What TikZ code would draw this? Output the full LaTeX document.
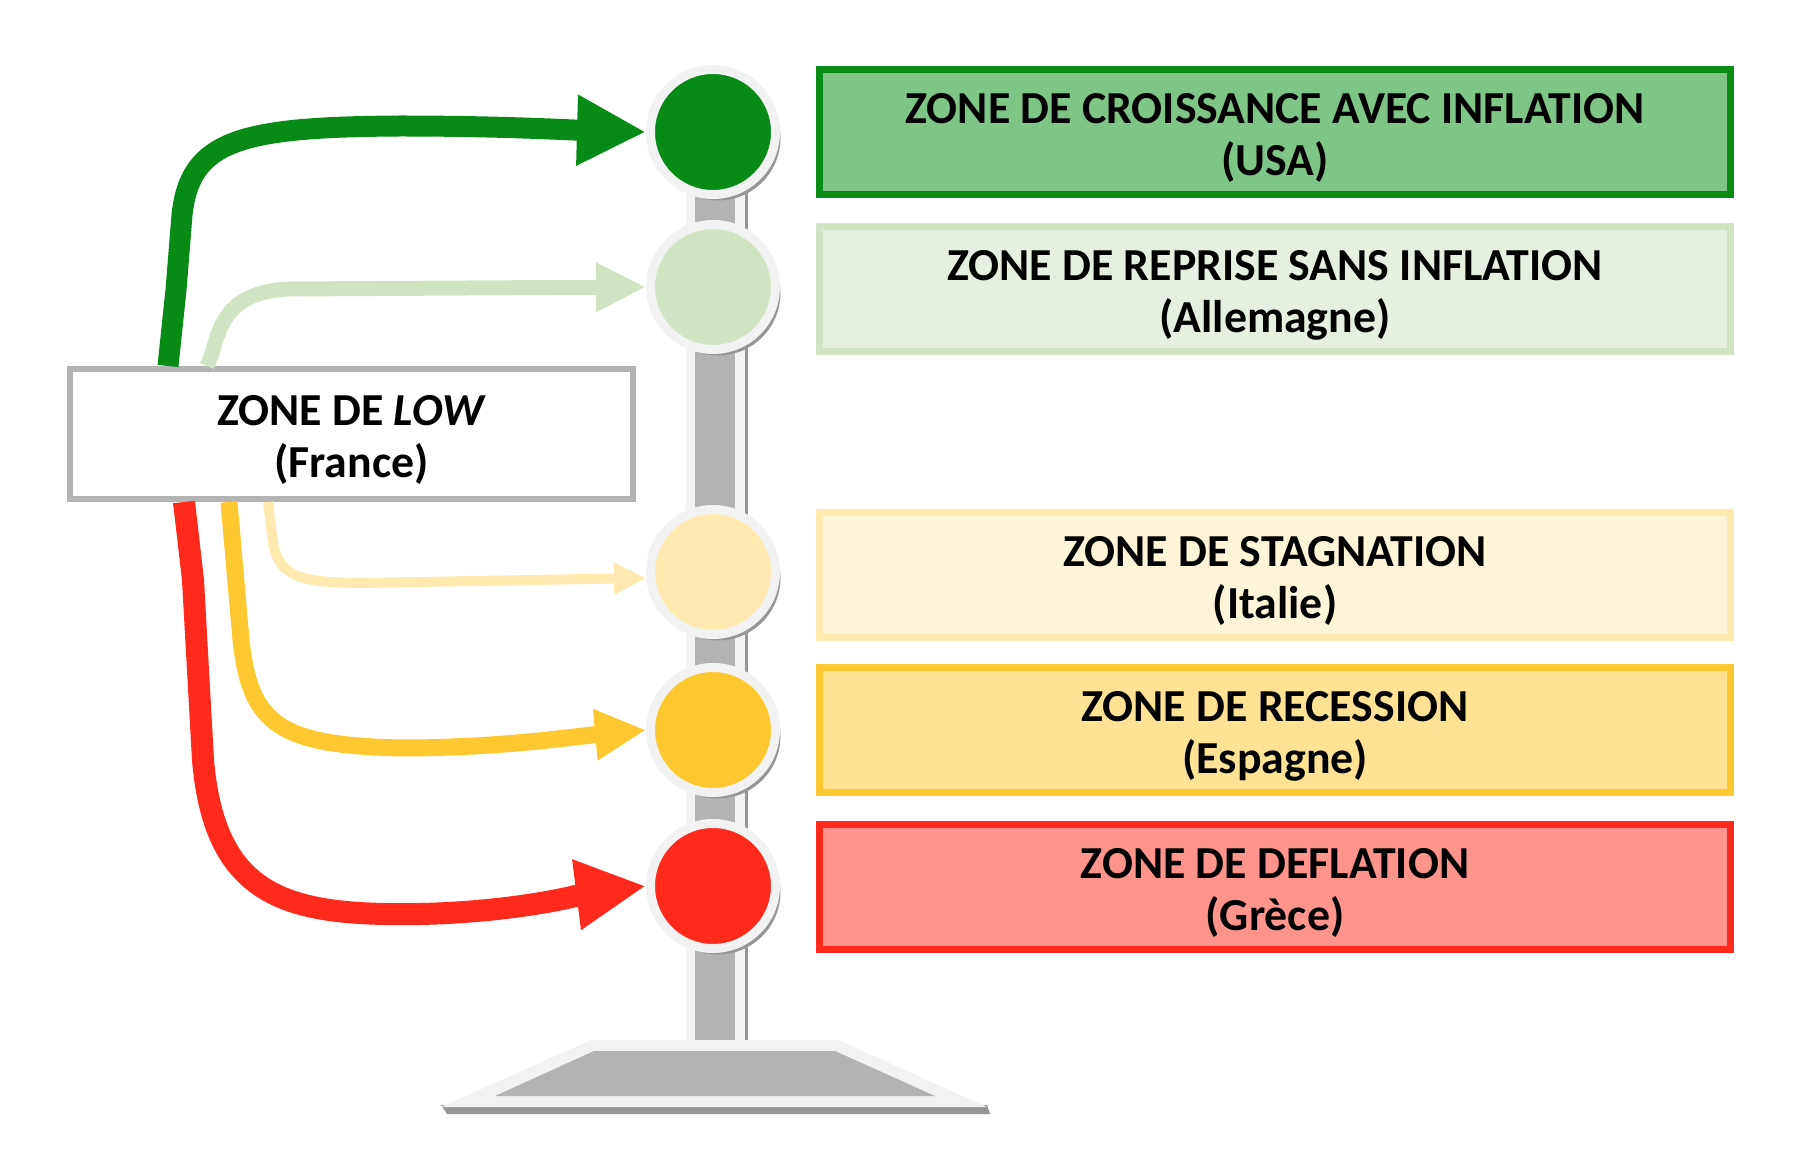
\documentclass[tikz,border=0pt]{standalone}
\usepackage{fontspec}
\setmainfont{Carlito}
\usetikzlibrary{arrows.meta,shadows}

\definecolor{dkgreen}{RGB}{8,138,22}
\definecolor{greenbox}{RGB}{127,198,134}
\definecolor{ltgreen}{RGB}{208,228,196}
\definecolor{ltgreenbox}{RGB}{230,240,224}
\definecolor{ltyellow}{RGB}{255,233,176}
\definecolor{ltyellowbox}{RGB}{255,243,216}
\definecolor{amber}{RGB}{255,200,48}
\definecolor{amberbox}{RGB}{255,226,148}
\definecolor{alarm}{RGB}{255,42,28}
\definecolor{alarmbox}{RGB}{255,148,140}
\definecolor{polegray}{RGB}{179,179,179}
\definecolor{ringwhite}{RGB}{242,242,242}
\definecolor{poleedge}{RGB}{150,150,150}
\definecolor{shadegray}{RGB}{150,150,150}

\newcommand{\zonefont}{\bfseries\fontsize{22.9}{26}\selectfont}

\begin{document}
\begin{tikzpicture}[x=0.5pt,y=-0.5pt,
    lamp/.style={circle, draw=ringwhite, line width=4.5pt, minimum size=62.5pt, inner sep=0pt,
        drop shadow={shadow xshift=2.5pt, shadow yshift=-3pt, fill=shadegray, opacity=1}},
    zone/.style={rectangle, line width=3.5pt, minimum width=455.5pt, minimum height=62.5pt,
        align=center, text height=49.8pt, text depth=6pt, font=\zonefont},
    flow/.style={line join=round}]

    \useasboundingbox (0,0) rectangle (1800,1165);

    % pole and foot
    \fill[ringwhite] (686,150) rectangle (745,1041);
    \fill[polegray] (695,150) rectangle (735,1041);
    \fill[poleedge] (745,150) rectangle (748,1041);
    \fill[shadegray] (441,1105) -- (987,1105) -- (990,1114) -- (447,1114) -- cycle;
    \fill[ringwhite] (591,1040) -- (838,1040) -- (987,1107) -- (441,1107) -- cycle;
    \fill[polegray] (594,1051) -- (835,1051) -- (935,1096) -- (495,1096) -- cycle;

    % lamps
    \node[lamp, fill=dkgreen] (lamp-1) at (713,132) {};
    \node[lamp, fill=ltgreen] (lamp-2) at (713,287) {};
    \node[lamp, fill=ltyellow] (lamp-3) at (713,572) {};
    \node[lamp, fill=amber] (lamp-4) at (713,730) {};
    \node[lamp, fill=alarm] (lamp-5) at (713,886) {};

    % zones
    \node[zone, draw=dkgreen, fill=greenbox] (zone-1) at (1275,132) {ZONE DE CROISSANCE AVEC INFLATION\\(USA)};
    \node[zone, draw=ltgreen, fill=ltgreenbox] (zone-2) at (1275,289) {ZONE DE REPRISE SANS INFLATION\\(Allemagne)};
    \node[zone, draw=ltyellow, fill=ltyellowbox] (zone-3) at (1275,575) {ZONE DE STAGNATION\\(Italie)};
    \node[zone, draw=amber, fill=amberbox] (zone-4) at (1275,730) {ZONE DE RECESSION\\(Espagne)};
    \node[zone, draw=alarm, fill=alarmbox] (zone-5) at (1275,887) {ZONE DE DEFLATION\\(Grèce)};

    \node[zone, draw=polegray, fill=white, line width=3pt, minimum width=281.5pt, minimum height=65pt] (low) at (351.5,434) {ZONE DE \textit{LOW}\\(France)};

    % arrows
    \draw[flow, dkgreen, line width=10.5pt, -{Triangle[length=34.5pt,width=33pt]}]
        ([xshift=50.5pt]low.north west) -- (176,290) -- (182,215) .. controls (190,140) and (240,127) .. (400,126)
        .. controls (500,126) and (570,130) .. (lamp-1.west);
    \draw[flow, ltgreen, line width=7.5pt, -{Triangle[length=25pt,width=23pt]}]
        ([xshift=70pt]low.north west) .. controls (220,340) and (215,292) .. (290,289) -- (lamp-2.west);
    \draw[flow, ltyellow, line width=5pt, -{Triangle[length=16pt,width=15pt]}]
        ([xshift=100.5pt]low.south west) -- (272,535) .. controls (276,578) and (300,582) .. (360,583) -- ([yshift=-3pt]lamp-3.west);
    \draw[flow, amber, line width=8.5pt, -{Triangle[length=25.5pt,width=24pt]}]
        ([xshift=81pt]low.south west) -- (241,640) .. controls (250,725) and (280,745) .. (400,748)
        .. controls (500,748) and (570,737) .. (lamp-4.west);
    \draw[flow, alarm, line width=11pt, -{Triangle[length=35pt,width=33pt]}]
        ([xshift=58.5pt]low.south west) -- (193,580) -- (203,760) .. controls (215,900) and (290,916) .. (420,914)
        .. controls (520,912) and (590,893) .. (lamp-5.west);

\end{tikzpicture}
\end{document}
